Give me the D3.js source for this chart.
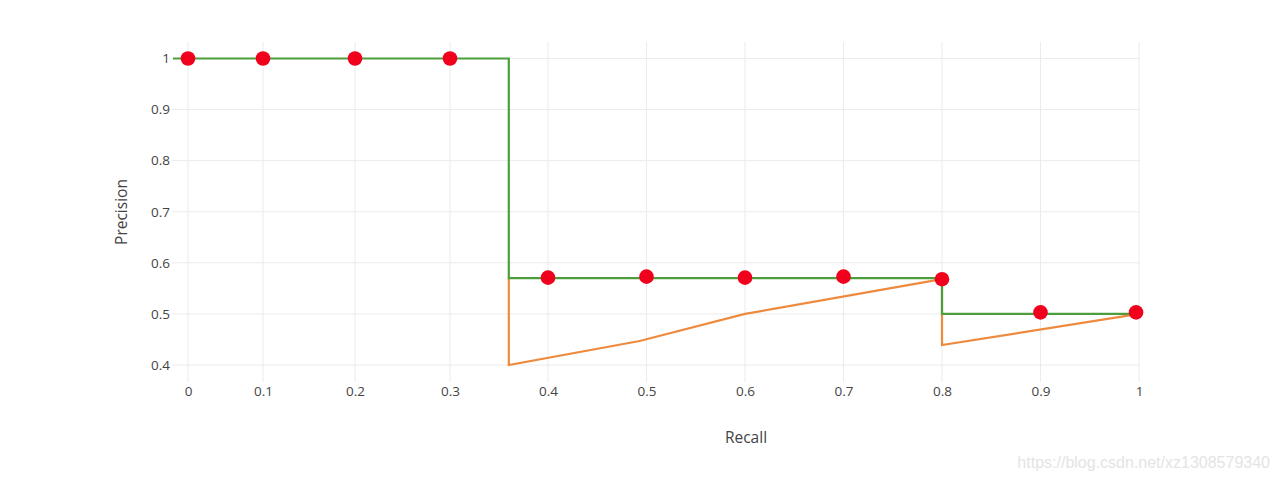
<!DOCTYPE html>
<html><head><meta charset="utf-8">
<script src="https://cdn.jsdelivr.net/npm/d3@7"></script>
<style>body{margin:0;background:#fff;} svg{display:block;font-family:"Open Sans",sans-serif;}</style>
</head><body>
<svg id="c" width="1280" height="480"></svg>
<script>
const xTicks = [0,0.1,0.2,0.3,0.4,0.5,0.6,0.7,0.8,0.9,1];
const yTicks = [0.4,0.5,0.6,0.7,0.8,0.9,1];
const pointRecall = [0,0.1,0.2,0.3,0.4,0.5,0.6,0.7,0.8,0.9,0.997];
const pointPrecision = [1,1,1,1,0.571,0.573,0.571,0.573,0.568,0.503,0.503];
const greenRecall = [-0.02,0.36,0.36,0.8,0.8,1];
const greenPrecision = [1,1,0.57,0.57,0.5,0.5];
const orangeRecall = [0.36,0.36,0.493,0.6,0.8,0.8,1];
const orangePrecision = [0.57,0.4,0.447,0.5,0.568,0.439,0.5];

const svg = d3.select("#c");
const x = d3.scaleLinear().domain([0,0.1,0.2,0.3,0.4,1]).range([188,263,355,450,548,1139]);
const y = d3.scaleLinear().domain([0.4,1]).range([365,58.5]);
const plotL = 172, plotR = 1140, plotT = 42, plotB = 382;

const g = svg.append("g");
g.selectAll(".vg").data(xTicks).join("line")
  .attr("x1", d=>x(d)).attr("x2", d=>x(d)).attr("y1", plotT).attr("y2", plotB)
  .attr("stroke", "#ebebeb").attr("stroke-width", 1);
g.selectAll(".hg").data(yTicks).join("line")
  .attr("x1", plotL).attr("x2", plotR).attr("y1", d=>y(d)).attr("y2", d=>y(d))
  .attr("stroke", "#ebebeb").attr("stroke-width", 1);

const xAxis = d3.axisBottom(x).tickValues(xTicks).tickSize(0).tickPadding(0).tickFormat(d3.format("~g"));
const xa = svg.append("g").attr("transform", `translate(0,${plotB})`).call(xAxis);
xa.select(".domain").remove();
xa.selectAll("text").attr("fill","#444").attr("font-size",13.5).attr("dy","1.05em").attr("font-family","Open Sans");

const yAxis = d3.axisLeft(y).tickValues(yTicks).tickSize(0).tickPadding(0).tickFormat(d3.format("~g"));
const ya = svg.append("g").attr("transform", `translate(${plotL-2},0)`).call(yAxis);
ya.select(".domain").remove();
ya.selectAll("text").attr("fill","#444").attr("font-size",13.5).attr("font-family","Open Sans");

const line = d3.line().x(d=>x(d[0])).y(d=>y(d[1]));
const orange = orangeRecall.map((r,i)=>[r, orangePrecision[i]]);
const green = greenRecall.map((r,i)=>[r, greenPrecision[i]]);
svg.append("path").attr("d", line(orange)).attr("fill","none").attr("stroke","#ee8a3e").attr("stroke-width",2.2);
svg.append("path").attr("d", line(green)).attr("fill","none").attr("stroke","#4c9e3c").attr("stroke-width",2.2);

svg.selectAll(".pt").data(pointRecall.map((r,i)=>[r, pointPrecision[i]])).join("circle")
  .attr("cx", d=>x(d[0])).attr("cy", d=>y(d[1])).attr("r", 7.3).attr("fill","#f0001c");

svg.append("text").attr("x", 746).attr("y", 443).attr("text-anchor","middle")
  .attr("font-size",15.5).attr("fill","#444").text("Recall");
svg.append("text").attr("transform","translate(127,212) rotate(-90)").attr("text-anchor","middle")
  .attr("font-size",15.5).attr("fill","#444").text("Precision");

svg.append("text").attr("x", 1270).attr("y", 468).attr("text-anchor","end")
  .attr("font-family","Liberation Sans, Arial, sans-serif").attr("font-size",16).attr("fill","#e4e4e4")
  .text("https://blog.csdn.net/xz1308579340");
</script>
</body></html>
